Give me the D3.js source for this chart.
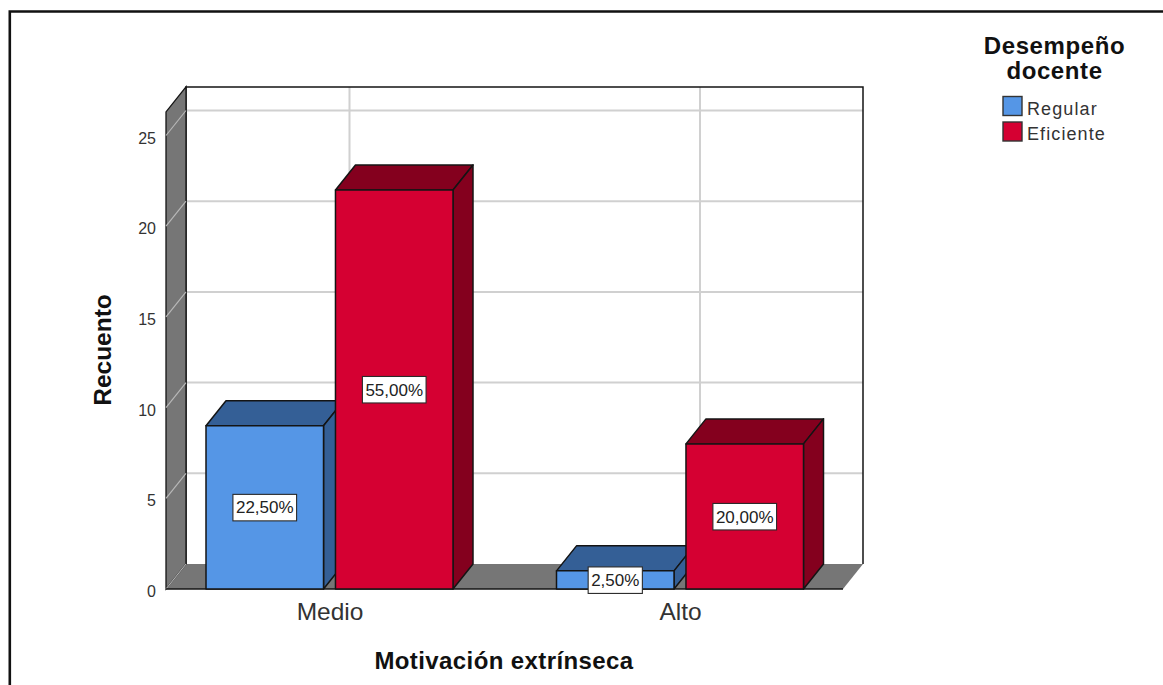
<!DOCTYPE html>
<html lang="es">
<head>
<meta charset="utf-8">
<title>Motivación extrínseca y desempeño docente</title>
<script src="https://cdn.jsdelivr.net/npm/d3@7"></script>
<style>
  html, body { margin: 0; padding: 0; background: #fff; }
  svg { display: block; font-family: "Liberation Sans", Arial, sans-serif; }
</style>
</head>
<body>
<svg id="chart" width="1163" height="685"></svg>
<script>
// Recuento de casos por categoría y grupo
const categories = ["Medio", "Alto"];
const seriesNames = ["Regular", "Eficiente"];
const regularCounts = [9, 1];
const eficienteCounts = [22, 8];
const yTicks = [0, 5, 10, 15, 20, 25];
const totalCases = 40;

const seriesValues = { Regular: regularCounts, Eficiente: eficienteCounts };
const frontColors = { Regular: "#5596e6", Eficiente: "#d50032" };
const shadeColors = { Regular: "#345f96", Eficiente: "#84001e" };

const svg = d3.select("#chart");
const outline = "#141414";
const gridColor = "#d0d0d0";
const wallColor = "#767676";

// Proyección oblicua de la caja 3D
const depthX = 20, depthY = -25;
const y = d3.scaleLinear().domain([0, 25]).range([589, 135.5]);
const x = d3.scalePoint().domain(categories).range([329.5, 680]);
const seriesOffset = d3.scaleBand().domain(seriesNames).range([-123.5, 123.5]).paddingInner(0.0923);
const yTop = 26.3;
const left = 166, right = 843;

const poly = pts => pts.map(p => p.join(",")).join(" ");
const percentFormat = d3.formatLocale({
  decimal: ",", thousands: ".", grouping: [3], currency: ["", "€"]
}).format(".2%");

// Marco exterior
svg.append("path")
  .attr("d", "M9.8,685V11.5H1163")
  .attr("fill", "none").attr("stroke", "#111").attr("stroke-width", 2.6);

// Paredes de la caja
const box = svg.append("g");
box.append("polygon")
  .attr("points", poly([[left + depthX, y(yTop) + depthY], [right + depthX, y(yTop) + depthY],
                        [right + depthX, y(0) + depthY], [left + depthX, y(0) + depthY]]))
  .attr("fill", "#fff");

// Rejilla sobre la pared del fondo
box.selectAll("line.h").data(yTicks.slice(1)).join("line")
  .attr("class", "h")
  .attr("x1", left + depthX).attr("x2", right + depthX)
  .attr("y1", d => y(d) + depthY).attr("y2", d => y(d) + depthY)
  .attr("stroke", gridColor).attr("stroke-width", 2);
box.selectAll("line.v").data(categories).join("line")
  .attr("class", "v")
  .attr("x1", d => x(d) + depthX).attr("x2", d => x(d) + depthX)
  .attr("y1", y(yTop) + depthY).attr("y2", y(0) + depthY)
  .attr("stroke", gridColor).attr("stroke-width", 2);

// Borde de la pared del fondo
box.append("path")
  .attr("d", `M${left + depthX},${y(0) + depthY}V${y(yTop) + depthY}H${right + depthX}V${y(0) + depthY}`)
  .attr("fill", "none").attr("stroke", outline).attr("stroke-width", 1.5);

// Suelo y pared lateral
box.append("polygon")
  .attr("points", poly([[left, y(0)], [right, y(0)], [right + depthX, y(0) + depthY], [left + depthX, y(0) + depthY]]))
  .attr("fill", wallColor);
box.append("polygon")
  .attr("points", poly([[left, y(0)], [left, y(yTop)], [left + depthX, y(yTop) + depthY], [left + depthX, y(0) + depthY]]))
  .attr("fill", wallColor).attr("stroke", outline).attr("stroke-width", 1.3);
box.selectAll("line.s").data(yTicks).join("line")
  .attr("class", "s")
  .attr("x1", left).attr("x2", left + depthX)
  .attr("y1", d => y(d)).attr("y2", d => y(d) + depthY)
  .attr("stroke", "#b8b8b8").attr("stroke-width", 1.2);
box.append("line")
  .attr("x1", left).attr("x2", right).attr("y1", y(0)).attr("y2", y(0))
  .attr("stroke", outline).attr("stroke-width", 1.5);

// Barras con sus caras superior y lateral
const bars = categories.flatMap((category, i) =>
  seriesNames.map(name => ({ category, name, value: seriesValues[name][i] })));

const barGroups = svg.append("g").selectAll("g").data(bars).join("g")
  .attr("stroke", outline).attr("stroke-width", 1.5).attr("stroke-linejoin", "round");

barGroups.each(function (d) {
  const g = d3.select(this);
  const x0 = x(d.category) + seriesOffset(d.name);
  const x1 = x0 + seriesOffset.bandwidth();
  const top = y(d.value), base = y(0);
  g.append("polygon")
    .attr("points", poly([[x0, top], [x1, top], [x1 + depthX, top + depthY], [x0 + depthX, top + depthY]]))
    .attr("fill", shadeColors[d.name]);
  g.append("polygon")
    .attr("points", poly([[x1, top], [x1 + depthX, top + depthY], [x1 + depthX, base + depthY], [x1, base]]))
    .attr("fill", shadeColors[d.name]);
  g.append("rect")
    .attr("x", x0).attr("y", top).attr("width", x1 - x0).attr("height", base - top)
    .attr("fill", frontColors[d.name]);
});

// Etiquetas de porcentaje centradas en cada barra
const labels = svg.append("g").selectAll("g").data(bars).join("g")
  .attr("transform", d => `translate(${x(d.category) + seriesOffset(d.name) + seriesOffset.bandwidth() / 2},${(y(d.value) + y(0)) / 2})`);
labels.append("text")
  .attr("text-anchor", "middle").attr("dy", "0.36em")
  .attr("font-size", 17).attr("fill", "#222")
  .text(d => percentFormat(d.value / totalCases));
labels.insert("rect", "text")
  .each(function () {
    const w = this.parentNode.querySelector("text").getComputedTextLength() + 6;
    d3.select(this).attr("x", -w / 2).attr("width", w);
  })
  .attr("y", -13).attr("height", 26.5)
  .attr("fill", "#fff").attr("stroke", "#2a2a2a").attr("stroke-width", 1.1);

// Ejes
const yAxis = svg.append("g")
  .attr("transform", `translate(${left},0)`)
  .call(d3.axisLeft(y).tickValues(yTicks).tickSize(0).tickPadding(10));
yAxis.select(".domain").remove();
yAxis.selectAll("text")
  .attr("font-family", "Liberation Sans").attr("font-size", 16)
  .attr("fill", "#333").attr("dy", "0.48em");

const xAxis = svg.append("g")
  .attr("transform", `translate(0,${y(0)})`)
  .call(d3.axisBottom(x).tickSize(0).tickPadding(14));
xAxis.select(".domain").remove();
xAxis.selectAll("text")
  .attr("font-family", "Liberation Sans").attr("font-size", 24.5)
  .attr("fill", "#333");

// Títulos de los ejes
svg.append("text")
  .attr("x", 504).attr("y", 669).attr("text-anchor", "middle")
  .attr("font-size", 24).attr("font-weight", "bold").attr("letter-spacing", 0.4).attr("fill", "#111")
  .text("Motivación extrínseca");
svg.append("text")
  .attr("transform", "translate(111,350) rotate(-90)").attr("text-anchor", "middle")
  .attr("font-size", 24.5).attr("font-weight", "bold").attr("fill", "#111")
  .text("Recuento");

// Leyenda
const legendTitle = ["Desempeño", "docente"];
svg.append("g").selectAll("text").data(legendTitle).join("text")
  .attr("x", 1054.5).attr("y", (d, i) => 54 + i * 25).attr("text-anchor", "middle")
  .attr("font-size", 24).attr("font-weight", "bold").attr("fill", "#111")
  .attr("letter-spacing", 0.6)
  .text(d => d);

const legend = svg.append("g").selectAll("g").data(seriesNames).join("g")
  .attr("transform", (d, i) => `translate(1003,${96.5 + i * 25.5})`);
legend.append("rect")
  .attr("width", 19).attr("height", 19)
  .attr("fill", d => frontColors[d]).attr("stroke", "#333").attr("stroke-width", 1.4);
legend.append("text")
  .attr("x", 24).attr("y", 18)
  .attr("font-size", 18).attr("letter-spacing", 1.1).attr("fill", "#333")
  .text(d => d);
</script>
</body>
</html>
